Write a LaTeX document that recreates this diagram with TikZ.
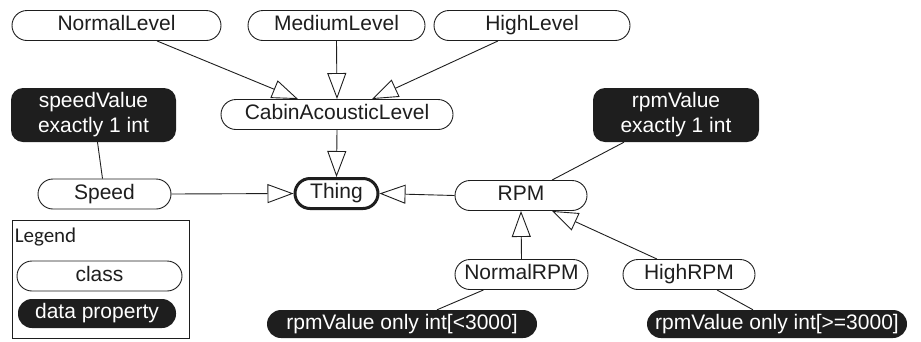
\documentclass[tikz,border=0pt]{standalone}
\usepackage{fontspec}
\setmainfont{Liberation Sans}
\newfontfamily\legendfont{Carlito}
\usetikzlibrary{arrows.meta}
\definecolor{ink}{HTML}{1E1E1E}
\tikzset{
  txt/.style={font=\fontsize{21pt}{25pt}\selectfont, text=ink},
  classbox/.style={txt, draw=ink, line width=0.9pt, fill=white, rectangle,
    rounded corners=15pt, inner sep=0pt, minimum height=30pt,
    text height=15pt, text depth=4.5pt},
  propbox/.style={txt, fill=ink, text=white, rectangle, rounded corners=12pt,
    inner sep=0pt, minimum height=54pt, align=center},
  proppill/.style={txt, fill=ink, text=white, rectangle, rounded corners=14pt,
    inner sep=0pt, minimum height=28pt, text height=15pt, text depth=4.5pt},
  isa/.style={draw=ink, line width=0.9pt, -{Triangle[open, length=26pt, width=19pt]}},
  link/.style={draw=ink, line width=0.9pt},
}
\begin{document}
\begin{tikzpicture}[x=1pt, y=-1pt]
\useasboundingbox (0,0) rectangle (921,341);

% class hierarchy
\node[classbox, minimum width=209pt] (nl) at (116.5,25.5) {NormalLevel};
\node[classbox, minimum width=177pt] (ml) at (336.5,25.5) {MediumLevel};
\node[classbox, minimum width=196pt] (hl) at (532,25.5) {HighLevel};
\node[classbox, minimum width=232pt] (cal) at (337,114.5) {CabinAcousticLevel};
\node[classbox, minimum width=133pt] (speed) at (104.5,194) {Speed};
\node[classbox, minimum width=83pt, line width=3pt] (thing) at (336.5,193.5) {Thing};
\node[classbox, minimum width=132pt] (rpm) at (521,195.5) {RPM};
\node[classbox, minimum width=133pt] (nrpm) at (521.5,274.5) {NormalRPM};
\node[classbox, minimum width=132pt] (hrpm) at (689,274.5) {HighRPM};

% data property restrictions
\node[propbox, minimum width=165pt] (sv) at (93.5,115) {speedValue\\exactly 1 int};
\node[propbox, minimum width=166pt] (rv) at (676,115) {rpmValue\\exactly 1 int};
\node[proppill, minimum width=270pt] (r1) at (402,324) {rpmValue only int[<3000]};
\node[proppill, minimum width=260pt] (r2) at (777,324) {rpmValue only int[>=3000]};

% subclass arrows
\draw[isa] ([xshift=40.5pt]nl.south) -- ([xshift=-39pt]cal.north);
\draw[isa] (ml.south) -- (cal.north);
\draw[isa] ([xshift=-34pt]hl.south) -- ([xshift=35pt]cal.north);
\draw[isa] (cal.south) -- (thing.north);
\draw[isa] (speed.east) -- (thing.west);
\draw[isa] (rpm.west) -- (thing.east);
\draw[isa] (nrpm.north) -- (rpm.south);
\draw[isa] ([xshift=-32pt]hrpm.north) -- ([xshift=31pt]rpm.south);

% property links
\draw[link] ([xshift=4pt]sv.south) -- ([xshift=-2pt]speed.north);
\draw[link] ([xshift=-52pt]rv.south) -- ([xshift=31pt]rpm.north);
\draw[link] ([xshift=-38pt]nrpm.south) -- ([xshift=35pt]r1.north);
\draw[link] ([xshift=28pt]hrpm.south) -- ([xshift=-24pt]r2.north);

% legend
\node[draw=ink, line width=0.9pt, minimum width=177pt, minimum height=118pt, inner sep=0pt] (lg) at (100.5,279) {};
\node[anchor=west, font=\legendfont\fontsize{21pt}{25pt}\selectfont, text=ink, inner sep=0pt] (lgt) at ([xshift=3pt,yshift=-17pt]lg.north west) {Legend};
\node[classbox, minimum width=165pt] (lc) at (99.5,276) {class};
\node[proppill, minimum width=158pt, minimum height=29pt] (lp) at (97,313.5) {data property};
\end{tikzpicture}
\end{document}
